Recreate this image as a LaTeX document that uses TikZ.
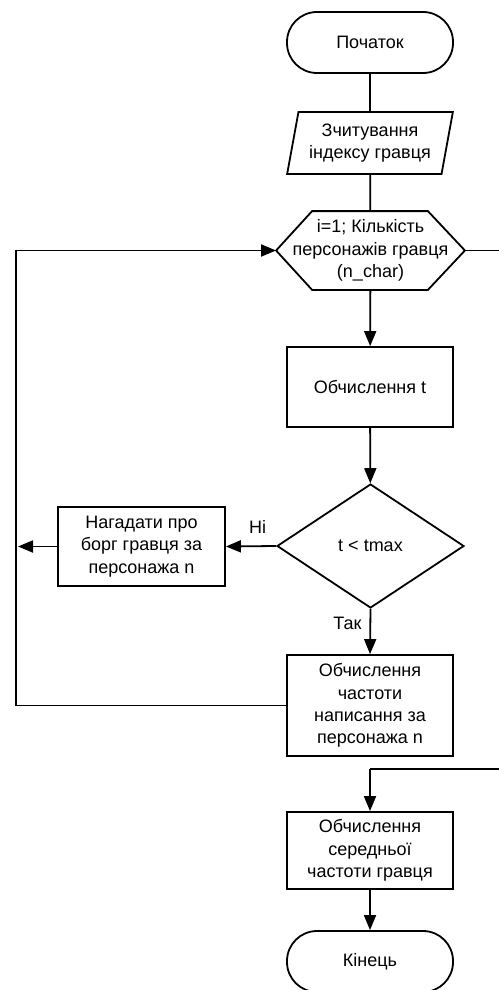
\documentclass[tikz,border=0pt]{standalone}
\usepackage{fontspec}
\setmainfont{Liberation Sans}
\usetikzlibrary{shapes.geometric, arrows.meta, calc}

\begin{document}
\begin{tikzpicture}[
    x=1pt, y=-1pt,
    line width=1.8pt,
    >={Triangle[length=15pt, width=12pt]},
    font=\fontsize{18}{22.3}\selectfont,
    term/.style={draw, rectangle, rounded corners=30pt, minimum width=166pt, minimum height=61pt},
    io/.style={draw, trapezium, trapezium left angle=76, trapezium right angle=104,
      trapezium stretches=true, minimum width=166pt, minimum height=62pt, align=center, inner sep=0pt},
    prep/.style={rectangle, minimum width=187pt, minimum height=77pt, align=center, inner sep=0pt},
    proc/.style={draw, rectangle, minimum width=166pt, align=center, inner sep=0pt},
    decision/.style={draw, diamond, minimum width=187pt, minimum height=124pt, inner sep=0pt},
    lbl/.style={inner sep=0pt}
  ]
  \useasboundingbox (0,0) rectangle (498,990);

  % --- ВУЗЛИ ---
  \node[term] (start) at (370,42.5) {Початок};
  \node[io] (read) at (370,143) {Зчитування\\індексу гравця};
  \node[prep] (loop) at (370.5,250.5) {i=1; Кількість\\персонажів гравця\\(n\_char)};
  \draw (loop.west) -- ([xshift=36pt]loop.north west) -- ([xshift=-37pt]loop.north east)
    -- (loop.east) -- ([xshift=-37pt]loop.south east) -- ([xshift=36pt]loop.south west) -- cycle;
  \node[proc, minimum height=80pt] (calct) at (370,387) {Обчислення t};
  \node[decision] (check) at (370.5,546) {t < tmax};
  \node[proc, minimum width=167pt, minimum height=79pt] (remind) at (141.5,546.5) {Нагадати про\\борг гравця за\\персонажа n};
  \node[proc, minimum height=101pt] (calcfreq) at (370,705.5) {Обчислення\\частоти\\написання за\\персонажа n};
  \node[proc, minimum height=77pt] (calcavg) at (370,850.5) {Обчислення\\середньої\\частоти гравця};
  \node[term] (finish) at (370,961.5) {Кінець};

  % --- ДОПОМІЖНІ ТОЧКИ ---
  \coordinate (loopleft) at (16,705.5);
  \coordinate (looptop) at (16,250.5);
  \coordinate (remindend) at (18,546.5);
  \coordinate (exitright) at (505,250.5);
  \coordinate (exitdown) at (505,769);
  \coordinate (exitin) at (370,769);

  % --- ПЕРЕХОДИ ---
  \draw (start) -- (read);
  \draw (read) -- (loop);
  \draw[->] (loop) -- (calct);
  \draw[->] (calct) -- (check);
  \draw[->] (check.west) -- node[lbl, pos=0.37, above=12pt] {Ні} (remind.east);
  \draw[->] (remind.west) -- (remindend);
  \draw[->] (check.south) -- node[lbl, pos=0.32, left=8pt] {Так} (calcfreq.north);

  % повернення до початку циклу
  \draw[->] (calcfreq.west) -- (loopleft) -- (looptop) -- (loop.west);

  % вихід з циклу
  \draw (loop.east) -- (exitright) -- (exitdown) -- (exitin);
  \draw[->] (exitin) -- (calcavg.north);
  \draw[->] (calcavg) -- (finish);

\end{tikzpicture}
\end{document}
